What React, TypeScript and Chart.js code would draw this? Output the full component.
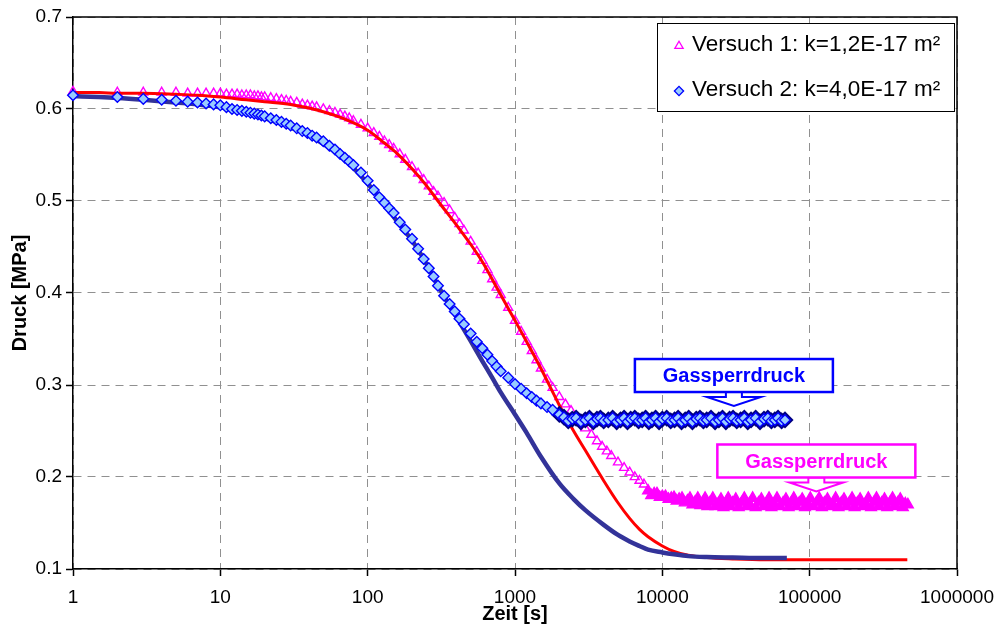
import { useEffect, useRef } from "react";
import { Chart, registerables } from "chart.js";
import { drawPoint } from "chart.js/helpers";

Chart.register(...registerables);

// Messzeitpunkte [s], für beide Versuche gleich bis 2000 s
const zeitMess = [
  1, 2, 3, 4, 5, 6, 7, 8, 9, 10,
  11, 12, 13, 14, 15, 16, 17, 18, 19, 20,
  22, 24, 26, 28, 30,
  33, 36, 39, 42, 45,
  50, 55, 60, 65, 70, 75, 80,
  90, 100,
  110, 120, 130, 140, 150,
  165, 180,
  200, 220, 240, 260, 280, 300,
  330, 360, 390, 420, 450,
  500, 550, 600, 650, 700, 750, 800,
  900, 1000,
  1100, 1200, 1300, 1400, 1500,
  1650, 1800, 2000,
];

// Versuch 1: gemessener Druck [MPa]
const druck1Mess = [
  0.619, 0.618, 0.618, 0.618, 0.618, 0.617, 0.617, 0.617, 0.617, 0.617,
  0.616, 0.616, 0.616, 0.615, 0.615, 0.615, 0.614, 0.614, 0.613, 0.613,
  0.612, 0.611, 0.610, 0.609, 0.608,
  0.607, 0.605, 0.604, 0.603, 0.602,
  0.600, 0.598, 0.596, 0.594, 0.592, 0.590, 0.587,
  0.583, 0.579,
  0.574, 0.570, 0.565, 0.561, 0.557,
  0.551, 0.545,
  0.537, 0.530, 0.523, 0.516, 0.510, 0.505,
  0.498, 0.490, 0.482, 0.475, 0.468,
  0.456, 0.445, 0.435, 0.425, 0.415, 0.406, 0.398,
  0.384, 0.370,
  0.358, 0.347, 0.337, 0.327, 0.318,
  0.306, 0.297, 0.287,
];

// Versuch 1: spätere Messzeitpunkte bis zum Versuchsende
const zeit1Ende = [
  2200, 2400, 2600, 2800, 3000, 3300, 3600, 3900, 4200, 4500,
  5000, 5500, 6000, 6500, 7000, 7500,
  8000, 8400, 8800, 9200, 9600, 10000, 10500, 11000, 11500, 12000,
  12500, 13000, 13600, 14200, 14800, 15400, 16000, 16700, 17400, 18100,
  18800, 19500, 20200, 21000, 22000, 23000, 24000, 25000, 26000, 27000,
  28000, 29000, 30000, 31500, 33000, 34500, 36000, 37500, 39000, 41000,
  43000, 45000, 47000, 49000, 51000, 53000, 55000, 57500, 60000, 63000,
  66000, 69000, 72000, 75000, 78000, 81000, 85000, 89000, 93000, 97000,
  101000, 106000, 111000, 116000, 121000, 126000, 132000, 138000, 144000, 150000,
  157000, 164000, 171000, 178000, 186000, 194000, 202000, 211000, 220000, 230000,
  240000, 250000, 261000, 272000, 284000, 296000, 309000, 322000, 336000, 350000,
  365000, 380000, 396000, 412000, 429000, 446000, 464000,
];

const druck1Ende = [
  0.279, 0.272, 0.265, 0.259, 0.253, 0.246, 0.239, 0.233, 0.228, 0.223,
  0.216, 0.210, 0.205, 0.200, 0.196, 0.192,
  0.185, 0.180, 0.182, 0.182, 0.178, 0.179, 0.179, 0.176, 0.177, 0.178,
  0.174, 0.176, 0.177, 0.172, 0.174, 0.177, 0.170, 0.173, 0.177, 0.169,
  0.172, 0.177, 0.168, 0.172, 0.177, 0.168, 0.171, 0.176, 0.167, 0.172,
  0.177, 0.168, 0.172, 0.176, 0.167, 0.172, 0.177, 0.168, 0.171, 0.177,
  0.167, 0.172, 0.176, 0.168, 0.172, 0.177, 0.167, 0.171, 0.177, 0.168,
  0.172, 0.176, 0.167, 0.172, 0.177, 0.168, 0.172, 0.176, 0.167, 0.171,
  0.177, 0.168, 0.172, 0.177, 0.167, 0.172, 0.176, 0.168, 0.171, 0.177,
  0.167, 0.172, 0.176, 0.168, 0.172, 0.177, 0.167, 0.172, 0.176, 0.168,
  0.171, 0.177, 0.167, 0.172, 0.177, 0.168, 0.172, 0.176, 0.167, 0.172,
  0.177, 0.168, 0.172, 0.176, 0.167, 0.171, 0.170,
];

// Versuch 2: gemessener Druck [MPa]
const druck2Mess = [
  0.615, 0.613, 0.611, 0.610, 0.609, 0.608, 0.607, 0.606, 0.605, 0.604,
  0.602, 0.600, 0.599, 0.598, 0.597, 0.596, 0.595, 0.594, 0.593, 0.592,
  0.590, 0.588, 0.586, 0.584, 0.582,
  0.579, 0.576, 0.574, 0.571, 0.569,
  0.565, 0.560, 0.556, 0.551, 0.547, 0.543, 0.539,
  0.531, 0.522,
  0.512, 0.504, 0.498, 0.492, 0.487,
  0.477, 0.469,
  0.459, 0.448, 0.437, 0.427, 0.418, 0.408,
  0.397, 0.388, 0.380, 0.372, 0.366,
  0.356, 0.347, 0.340, 0.333, 0.326, 0.320, 0.315,
  0.308, 0.301,
  0.296, 0.291, 0.287, 0.283, 0.280,
  0.276, 0.273, 0.268,
];

// Versuch 2: spätere Messzeitpunkte bis zum Versuchsende
const zeit2Ende = [
  2150, 2300, 2450, 2600, 2800, 3000, 3200, 3400, 3600, 3800,
  4000, 4300, 4600, 4900, 5200, 5500, 5800, 6100, 6500, 6900,
  7300, 7700, 8100, 8500, 9000, 9500, 10000, 10700, 11400, 12100,
  12800, 13500, 14300, 15100, 16000, 17000, 18000, 19000, 20000, 21400,
  22800, 24200, 25600, 27000, 28600, 30200, 32000, 34000, 36000, 38000,
  40000, 43000, 46000, 49000, 52000, 55000, 58000, 61000, 64500, 68000,
];

const druck2Ende = [
  0.265, 0.261, 0.263, 0.264, 0.260, 0.262, 0.264, 0.260, 0.263, 0.264,
  0.261, 0.262, 0.264, 0.260, 0.262, 0.264, 0.260, 0.263, 0.264, 0.261,
  0.262, 0.264, 0.260, 0.262, 0.264, 0.260, 0.263, 0.264, 0.261, 0.262,
  0.264, 0.260, 0.262, 0.264, 0.260, 0.263, 0.264, 0.261, 0.262, 0.264,
  0.260, 0.262, 0.264, 0.260, 0.263, 0.264, 0.261, 0.262, 0.264, 0.260,
  0.262, 0.264, 0.260, 0.263, 0.264, 0.261, 0.262, 0.264, 0.261, 0.262,
];

// Berechnete Druckverläufe (Modell)
const zeitModell = [
  1, 1.5, 2, 3, 5, 7, 10, 15, 20, 30, 40, 50, 70, 100, 130, 160, 200, 250, 300,
  400, 500, 600, 700, 800, 1000, 1200, 1500, 2000, 2500, 3000, 4000, 5000, 6000,
  7000, 8000, 10000, 12000, 15000, 20000, 30000, 50000, 70000, 100000, 200000,
  300000, 460000,
];

const modell1 = [
  0.618, 0.618, 0.617, 0.617, 0.616, 0.615, 0.613, 0.610, 0.608, 0.605, 0.601,
  0.597, 0.589, 0.577, 0.563, 0.551, 0.535, 0.517, 0.500, 0.474, 0.453, 0.434,
  0.415, 0.398, 0.370, 0.347, 0.318, 0.278, 0.250, 0.229, 0.196, 0.172, 0.155,
  0.143, 0.135, 0.125, 0.119, 0.115, 0.1125, 0.111, 0.110, 0.110, 0.110, 0.110,
  0.110, 0.110,
];

const modell2 = [
  0.614, 0.613, 0.612, 0.610, 0.607, 0.605, 0.602, 0.596, 0.590, 0.580, 0.571,
  0.562, 0.545, 0.519, 0.496, 0.477, 0.457, 0.432, 0.408, 0.374, 0.348, 0.326,
  0.308, 0.292, 0.268, 0.248, 0.222, 0.193, 0.176, 0.164, 0.148, 0.137, 0.130,
  0.125, 0.121, 0.118, 0.116, 0.114, 0.113, 0.1125, 0.112, 0.112,
];

const xTicks = [1, 10, 100, 1000, 10000, 100000, 1000000];
const yTicks = [0.1, 0.2, 0.3, 0.4, 0.5, 0.6, 0.7];

const legendLabels = ["Versuch 1: k=1,2E-17 m²", "Versuch 2: k=4,0E-17 m²"];

// Hinweiskästen mit Pfeil auf das Druckplateau
const hinweise = [
  { text: "Gassperrdruck", farbe: "#0000FF", zeit: 30600, druck: 0.3103 },
  { text: "Gassperrdruck", farbe: "#FF00FF", zeit: 111000, druck: 0.2174 },
];

// Ab diesen Zeiten liegen die Messpunkte dicht auf dem Plateau
const PLATEAU1_AB = 8000;
const PLATEAU2_AB = 2000;

const FONT = "'Liberation Sans', Arial, Helvetica, sans-serif";
const MAGENTA = "#FF00FF";
const BLAU = "#0000FF";
const NAVY = "#000080";
const HELLBLAU = "#99CCFF";
const ROT = "#FF0000";
const DUNKELBLAU = "#333399";

const punkte = (xs: number[], ys: number[]) => ys.map((y, i) => ({ x: xs[i], y }));
const imPlateau = (c: any, ab: number) => !!(c.raw && c.raw.x >= ab);

const rahmenPlugin = {
  id: "rahmen",
  beforeDatasetsDraw(chart: any) {
    const { ctx, chartArea: a } = chart;
    ctx.save();
    ctx.strokeStyle = "#000";
    ctx.lineWidth = 1.5;
    ctx.beginPath();
    ctx.moveTo(a.left, a.top);
    ctx.lineTo(a.right, a.top);
    ctx.lineTo(a.right, a.bottom);
    ctx.stroke();
    ctx.restore();
  },
};

// Dunkler Saum unter den dicht liegenden Rauten des Plateaus
const saumPlugin = {
  id: "saum",
  beforeDatasetDraw(chart: any, args: any) {
    const ds = chart.data.datasets[args.index];
    if (ds.saumAb === undefined) return;
    const ctx = chart.ctx;
    ctx.save();
    ctx.fillStyle = NAVY;
    args.meta.data.forEach((el: any, i: number) => {
      const raw = ds.data[i];
      if (!raw || raw.x < ds.saumAb) return;
      drawPoint(ctx, { pointStyle: "rectRot", radius: 8.6, rotation: 0, borderWidth: 0 } as any, el.x, el.y);
    });
    ctx.restore();
  },
};

const legendePlugin = {
  id: "legende",
  afterDraw(chart: any) {
    const { ctx, chartArea: a } = chart;
    const w = 297;
    const h = 88;
    const left = a.right - 300;
    const top = a.top + 6;
    ctx.save();
    ctx.fillStyle = "#fff";
    ctx.fillRect(left, top, w, h);
    ctx.strokeStyle = "#000";
    ctx.lineWidth = 1;
    ctx.strokeRect(left + 0.5, top + 0.5, w, h);
    const rows = [
      { y: top + 22, style: "triangle", r: 4.8, fill: "rgba(0,0,0,0)", stroke: MAGENTA },
      { y: top + 67, style: "rectRot", r: 4.6, fill: HELLBLAU, stroke: BLAU },
    ];
    rows.forEach((row, i) => {
      ctx.fillStyle = row.fill;
      ctx.strokeStyle = row.stroke;
      ctx.lineWidth = 1.3;
      drawPoint(ctx, { pointStyle: row.style, radius: row.r, rotation: 0, borderWidth: 1.3 } as any, left + 22, row.y + 1);
      ctx.fillStyle = "#000";
      ctx.font = `22.5px ${FONT}`;
      ctx.textBaseline = "middle";
      ctx.textAlign = "left";
      ctx.fillText(legendLabels[i], left + 35, row.y);
    });
    ctx.restore();
  },
};

const hinweisPlugin = {
  id: "hinweise",
  afterDraw(chart: any) {
    const { ctx } = chart;
    const xs = chart.scales.x;
    const ys = chart.scales.y;
    const bw = 198;
    const bh = 33;
    hinweise.forEach((hw) => {
      const cx = xs.getPixelForValue(hw.zeit);
      const cy = ys.getPixelForValue(hw.druck);
      const bx = cx - bw / 2;
      const by = cy - bh / 2;
      const bottom = by + bh;
      ctx.save();
      // Blockpfeil unter dem Kasten
      ctx.beginPath();
      ctx.moveTo(cx - 8, bottom);
      ctx.lineTo(cx - 8, bottom + 5);
      ctx.lineTo(cx - 27, bottom + 5);
      ctx.lineTo(cx, bottom + 14);
      ctx.lineTo(cx + 27, bottom + 5);
      ctx.lineTo(cx + 8, bottom + 5);
      ctx.lineTo(cx + 8, bottom);
      ctx.closePath();
      ctx.fillStyle = "#fff";
      ctx.fill();
      ctx.strokeStyle = hw.farbe;
      ctx.lineWidth = 2;
      ctx.stroke();
      // Kasten
      ctx.fillStyle = "#fff";
      ctx.fillRect(bx, by, bw, bh);
      ctx.lineWidth = 2.5;
      ctx.strokeRect(bx, by, bw, bh);
      ctx.fillStyle = hw.farbe;
      ctx.font = `bold 20px ${FONT}`;
      ctx.textAlign = "center";
      ctx.textBaseline = "middle";
      ctx.fillText(hw.text, cx, cy + 1);
      ctx.restore();
    });
  },
};

export default function App() {
  const canvasRef = useRef<HTMLCanvasElement>(null);

  useEffect(() => {
    document.body.style.margin = "0";
    const canvas = canvasRef.current;
    if (!canvas) return;

    const chart = new Chart(canvas, {
      type: "scatter",
      data: {
        datasets: [
          {
            label: legendLabels[0],
            data: [...punkte(zeitMess, druck1Mess), ...punkte(zeit1Ende, druck1Ende)],
            pointStyle: "triangle",
            pointRadius: (c: any) => (imPlateau(c, PLATEAU1_AB) ? 6.2 : 5.2),
            pointBorderWidth: 1.4,
            pointBorderColor: MAGENTA,
            pointBackgroundColor: (c: any) => (imPlateau(c, PLATEAU1_AB) ? MAGENTA : "rgba(0,0,0,0)"),
            showLine: false,
            clip: false,
            order: 3,
          },
          {
            label: "",
            data: punkte(zeitModell, modell1),
            showLine: true,
            borderColor: ROT,
            borderWidth: 3,
            pointRadius: 0,
            cubicInterpolationMode: "monotone",
            order: 2,
          },
          {
            label: "",
            data: punkte(zeitModell, modell2),
            showLine: true,
            borderColor: DUNKELBLAU,
            borderWidth: 4.5,
            pointRadius: 0,
            cubicInterpolationMode: "monotone",
            order: 1,
          },
          {
            label: legendLabels[1],
            data: [...punkte(zeitMess, druck2Mess), ...punkte(zeit2Ende, druck2Ende)],
            saumAb: PLATEAU2_AB,
            pointStyle: "rectRot",
            pointRadius: 5.3,
            pointBorderWidth: 1.4,
            pointBorderColor: BLAU,
            pointBackgroundColor: HELLBLAU,
            showLine: false,
            clip: false,
            order: 0,
          },
        ],
      } as any,
      options: {
        responsive: false,
        devicePixelRatio: 1,
        animation: false,
        events: [],
        layout: { padding: { top: 17, right: 40, left: 0, bottom: 0 } },
        plugins: {
          legend: { display: false },
          tooltip: { enabled: false },
        },
        scales: {
          x: {
            type: "logarithmic",
            min: 1,
            max: 1000000,
            afterBuildTicks: (scale: any) => {
              scale.ticks = xTicks.map((v) => ({ value: v }));
            },
            afterFit: (scale: any) => {
              scale.height = 59;
              scale.paddingLeft = 0;
              scale.paddingRight = 0;
            },
            ticks: {
              callback: (v: any) => String(v),
              color: "#000",
              font: { family: FONT, size: 19 },
              padding: 10,
              maxRotation: 0,
              autoSkip: false,
            },
            grid: {
              color: "#909090",
              lineWidth: 1,
              tickColor: "#000",
              tickLength: 7,
              tickWidth: 1.5,
              tickBorderDash: [],
            },
            border: { display: true, color: "#000", width: 1.5, dash: [8, 6] },
            title: {
              display: true,
              text: "Zeit [s]",
              color: "#000",
              font: { family: FONT, size: 20, weight: "bold" },
              padding: { top: 0, bottom: 2 },
            },
          },
          y: {
            type: "linear",
            min: 0.1,
            max: 0.7,
            afterBuildTicks: (scale: any) => {
              scale.ticks = yTicks.map((v) => ({ value: v }));
            },
            afterFit: (scale: any) => {
              scale.width = 73;
            },
            ticks: {
              callback: (v: any) => Number(v).toFixed(1),
              color: "#000",
              font: { family: FONT, size: 19 },
              padding: 4,
            },
            grid: {
              color: "#909090",
              lineWidth: 1,
              tickColor: "#000",
              tickLength: 7,
              tickWidth: 1.5,
              tickBorderDash: [],
            },
            border: { display: true, color: "#000", width: 1.5, dash: [8, 6] },
            title: {
              display: true,
              text: "Druck [MPa]",
              color: "#000",
              font: { family: FONT, size: 20, weight: "bold" },
              padding: { top: 8, bottom: 0 },
            },
          },
        },
      } as any,
      plugins: [rahmenPlugin, saumPlugin, legendePlugin, hinweisPlugin],
    });

    return () => chart.destroy();
  }, []);

  return (
    <div style={{ width: 997, height: 628 }}>
      <canvas ref={canvasRef} width={997} height={628} style={{ display: "block" }} />
    </div>
  );
}
